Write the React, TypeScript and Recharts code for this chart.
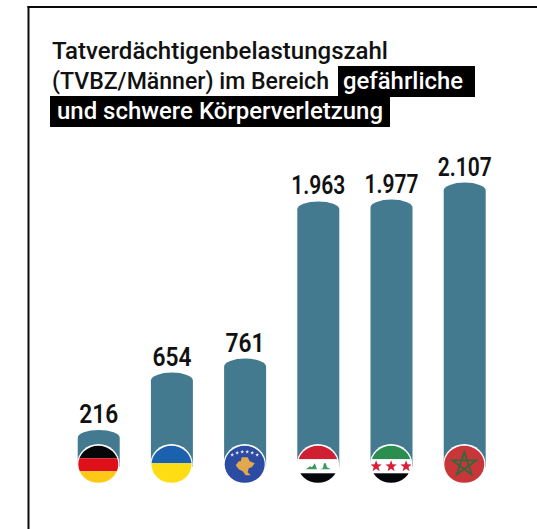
import { Bar, BarChart, LabelList, XAxis, YAxis } from 'recharts';

const COUNTRIES = ['Deutschland', 'Ukraine', 'Kosovo', 'Irak', 'Syrien', 'Marokko'];
const VALUES = [216, 654, 761, 1963, 1977, 2107];

const WIDTH = 537;
const HEIGHT = 529;
const BAR = '#437a90';
const FONT = 'Roboto, sans-serif';
// the bars run on behind the flags, below the zero line
const FLOOR = -64;

const data = COUNTRIES.map((country, i) => ({ country, value: VALUES[i] }));

function starPoints(cx: number, cy: number, r: number) {
  const pts: string[] = [];
  for (let i = 0; i < 10; i++) {
    const rad = i % 2 === 0 ? r : r * 0.42;
    const a = -Math.PI / 2 + (i * Math.PI) / 5;
    pts.push(`${cx + rad * Math.cos(a)},${cy + rad * Math.sin(a)}`);
  }
  return pts.join(' ');
}

function pentagram(r: number) {
  const order = [0, 2, 4, 1, 3];
  const pts = order.map(i => {
    const a = -Math.PI / 2 + (i * 2 * Math.PI) / 5;
    return `${r * Math.cos(a)},${r * Math.sin(a)}`;
  });
  return pts.join(' ');
}

// ─── Flags ──────────────────────────────────────────────────

function FlagArt({ country }: { country: string }) {
  if (country === 'Deutschland') {
    return (
      <>
        <rect x={-21} y={-20} width={42} height={14} fill="#05060a" />
        <rect x={-21} y={-6} width={42} height={13} fill="#e0101a" />
        <rect x={-21} y={7} width={42} height={13} fill="#fdc916" />
      </>
    );
  }
  if (country === 'Ukraine') {
    return (
      <>
        <rect x={-21} y={-20} width={42} height={19} fill="#1c61ae" />
        <rect x={-21} y={-1} width={42} height={21} fill="#fedd15" />
      </>
    );
  }
  if (country === 'Kosovo') {
    return (
      <>
        <rect x={-21} y={-20} width={42} height={40} fill="#2c4ba3" />
        {[-12.5, -7.5, -2.5, 2.5, 7.5, 12.5].map((sx, i) => (
          <polygon
            key={sx}
            points={starPoints(sx, [-9.5, -11.5, -12.5, -12.5, -11.5, -9.5][i], 2)}
            fill="#dfe4f2"
          />
        ))}
        <polygon
          points="-3,-7 3,-7 5,-3 10,-1 7,3 4,4 3,8 6,11 1,11 -2,7 -6,5 -9,1 -6,-3 -4,-3"
          fill="#e0a94e"
        />
      </>
    );
  }
  if (country === 'Irak') {
    return (
      <>
        <rect x={-21} y={-20} width={42} height={15} fill="#cf1f33" />
        <rect x={-21} y={-5} width={42} height={14} fill="#ffffff" />
        <rect x={-21} y={9} width={42} height={11} fill="#05060a" />
        <path
          d="M-12,5 L-8,2 L-6,3 L-3,-1 L-2,2 L-1,5 Z M2,5 L5,4 L6,-1 L8,-1 L9,3 L13,5 Z"
          fill="#3d9a5a"
        />
      </>
    );
  }
  if (country === 'Syrien') {
    return (
      <>
        <rect x={-21} y={-20} width={42} height={15} fill="#2b8d4e" />
        <rect x={-21} y={-5} width={42} height={14} fill="#ffffff" />
        <rect x={-21} y={9} width={42} height={11} fill="#05060a" />
        {[-15, 0, 15].map(sx => (
          <polygon key={sx} points={starPoints(sx, 2, 6)} fill="#d6203c" />
        ))}
      </>
    );
  }
  return (
    <>
      <rect x={-21} y={-20} width={42} height={40} fill="#c8363a" />
      <polygon points={pentagram(12.5)} fill="none" stroke="#2d6b3c" strokeWidth={1.8} />
    </>
  );
}

function FlagTick({ x, y, payload }: any) {
  const country = payload.value;
  const clipId = `flag-${country}`;
  return (
    <g transform={`translate(${x},${y - 2.2})`}>
      <ellipse cx={0} cy={0} rx={21.2} ry={20.3} fill="#ffffff" />
      <clipPath id={clipId}>
        <ellipse cx={0} cy={0} rx={20} ry={18.5} />
      </clipPath>
      <g clipPath={`url(#${clipId})`}>
        <FlagArt country={country} />
      </g>
    </g>
  );
}

// ─── Bar with domed top ─────────────────────────────────────

function DomeBar({ x, y, width, height }: any) {
  const ry = 8;
  const d = `M${x},${y + height} V${y + ry} A${width / 2},${ry} 0 0 1 ${x + width},${y + ry} V${y + height} Z`;
  return <path d={d} fill={BAR} />;
}

// Roboto squeezed a little, the original face is narrower
function ValueLabel({ x, y, width, value }: any) {
  const text = Number(value).toLocaleString('de-DE');
  const digits = text.replace('.', '').length;
  return (
    <text
      x={x + width / 2}
      y={y - 7}
      textAnchor="middle"
      textLength={digits * 13 + (text.length - digits) * 2}
      lengthAdjust="spacingAndGlyphs"
      fontFamily={FONT}
      fontSize={25}
      fontWeight={600}
      fill="#111"
    >
      {text}
    </text>
  );
}

// ─── Title and frame ────────────────────────────────────────

function TitleText() {
  const common = { fontFamily: FONT, fontSize: 23.5, fontWeight: 500, lengthAdjust: 'spacingAndGlyphs' as const };
  return (
    <svg
      width={WIDTH}
      height={HEIGHT}
      style={{ position: 'absolute', left: 0, top: 0 }}
    >
      <rect x={27.5} y={6} width={WIDTH} height={2} fill="#0a0a0a" />
      <rect x={27.5} y={6} width={2} height={HEIGHT} fill="#0a0a0a" />
      <rect x={338} y={66} width={137} height={31} fill="#000" />
      <rect x={50} y={96} width={340} height={31} fill="#000" />
      <text x={52} y={59} fill="#111" textLength={336} {...common}>
        Tatverdächtigenbelastungszahl
      </text>
      <text x={52} y={89} fill="#111" textLength={277} {...common}>
        (TVBZ/Männer) im Bereich
      </text>
      <text x={343} y={89} fill="#fff" textLength={120} {...common}>
        gefährliche
      </text>
      <text x={57} y={119} fill="#fff" textLength={326} {...common}>
        und schwere Körperverletzung
      </text>
    </svg>
  );
}

export default function App() {
  return (
    <div style={{ position: 'fixed', left: 0, top: 0, width: WIDTH, height: HEIGHT, background: '#fff' }}>
      <TitleText />
      <div style={{ position: 'absolute', left: 0, top: 0 }}>
        <BarChart
          width={WIDTH}
          height={HEIGHT}
          data={data}
          barSize={42}
          margin={{ top: 130, right: 36.1, bottom: 0, left: 61.7 }}
        >
          <YAxis hide domain={[FLOOR, 2509]} />
          <Bar
            dataKey={(d: { value: number }) => [FLOOR, d.value]}
            shape={<DomeBar />}
            isAnimationActive={false}
          >
            <LabelList dataKey="value" content={<ValueLabel />} />
          </Bar>
          <XAxis
            dataKey="country"
            height={62.5}
            axisLine={false}
            tickLine={false}
            tickSize={0}
            tickMargin={0}
            interval={0}
            tick={<FlagTick />}
          />
        </BarChart>
      </div>
    </div>
  );
}
